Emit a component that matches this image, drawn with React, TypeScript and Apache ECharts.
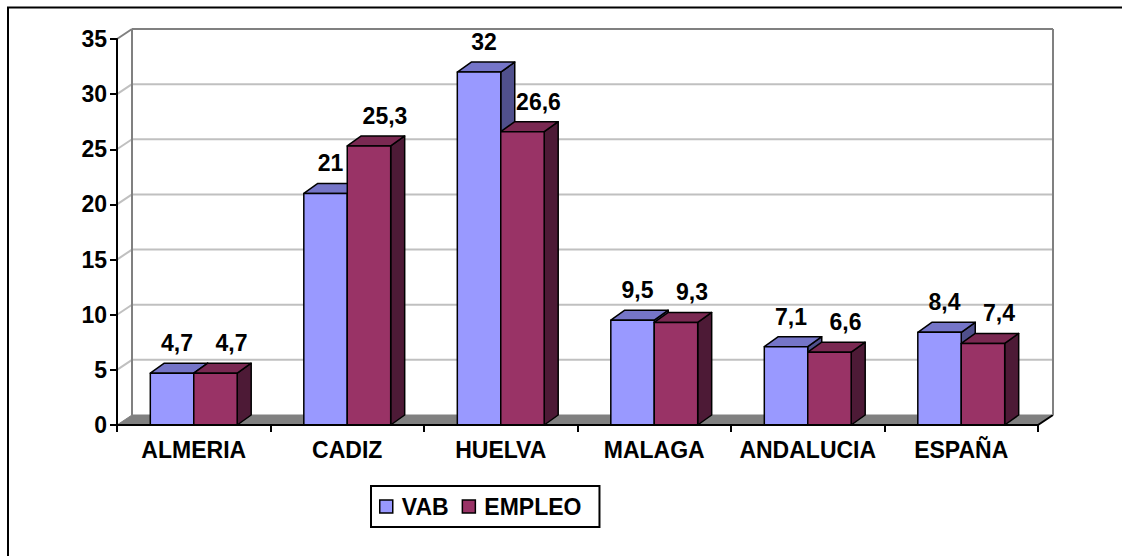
import React, { useEffect, useRef } from 'react';
import * as echarts from 'echarts';

const categories = ['ALMERIA', 'CADIZ', 'HUELVA', 'MALAGA', 'ANDALUCIA', 'ESPAÑA'];
const vab = [4.7, 21, 32, 9.5, 7.1, 8.4];
const empleo = [4.7, 25.3, 26.6, 9.3, 6.6, 7.4];
const yTicks = [0, 5, 10, 15, 20, 25, 30, 35];

const FONT = '"Liberation Sans", Arial, Helvetica, sans-serif';
const WDX = 15;
const WDY = 10;
const BDX = 14;
const BDY = 10;
const BAR_FRAC = 0.283;

const fmt = (v: number) => String(v).replace('.', ',');

type Faces = { front: string; top: string; side: string };

function barRenderer(pos: 'left' | 'right', c: Faces, labelDx: number) {
  return (params: any, api: any) => {
    const i = api.value(0);
    const v = api.value(1);
    const base = api.coord([i, 0]);
    const tp = api.coord([i, v]);
    const bw = api.size([1, 0])[0];
    const w = bw * BAR_FRAC;
    const x0 = pos === 'left' ? base[0] - w : base[0];
    const x1 = x0 + w;
    const yb = base[1];
    const yt = tp[1];
    const st = (fill: string) => ({ fill, stroke: '#000', lineWidth: 1.5, lineJoin: 'round' });
    return {
      type: 'group',
      children: [
        { type: 'polygon', shape: { points: [[x1, yb], [x1 + BDX, yb - BDY], [x1 + BDX, yt - BDY], [x1, yt]] }, style: st(c.side) },
        { type: 'polygon', shape: { points: [[x0, yt], [x0 + BDX, yt - BDY], [x1 + BDX, yt - BDY], [x1, yt]] }, style: st(c.top) },
        { type: 'rect', shape: { x: x0, y: yt, width: w, height: yb - yt }, style: st(c.front) },
        {
          type: 'text',
          x: (x0 + x1) / 2 + labelDx,
          y: yt - BDY - 20,
          style: {
            text: fmt(v),
            fill: '#000',
            fontSize: 23,
            fontWeight: 'bold',
            fontFamily: FONT,
            align: 'center',
            verticalAlign: 'middle',
          },
        },
      ],
    };
  };
}

const wallRender = (params: any, api: any) => {
  const v = api.value(1);
  const c = api.coord([0, v]);
  const y0 = api.coord([0, 0])[1];
  const bw = api.size([1, 0])[0];
  const left = c[0] - bw / 2;
  const right = left + bw * categories.length;
  const y = c[1];
  const yMax = yTicks[yTicks.length - 1];
  const children: any[] = [];
  if (v === 0) {
    children.push({
      type: 'polygon',
      shape: { points: [[left, y], [right, y], [right + WDX, y - WDY], [left + WDX, y - WDY]] },
      style: { fill: '#808080', stroke: '#808080', lineWidth: 1 },
    });
    children.push({
      type: 'line',
      shape: { x1: right, y1: y, x2: right + WDX, y2: y - WDY },
      style: { stroke: '#000', lineWidth: 2 },
    });
  } else {
    const color = v === yMax ? '#808080' : '#c0c0c0';
    children.push({
      type: 'line',
      shape: { x1: left, y1: y, x2: left + WDX, y2: y - WDY },
      style: { stroke: color, lineWidth: 2 },
    });
    children.push({
      type: 'line',
      shape: { x1: left + WDX, y1: y - WDY, x2: right + WDX, y2: y - WDY },
      style: { stroke: color, lineWidth: 2 },
    });
  }
  if (v === yMax) {
    children.push({
      type: 'line',
      shape: { x1: left + WDX, y1: y - WDY, x2: left + WDX, y2: y0 - WDY },
      style: { stroke: '#808080', lineWidth: 2 },
    });
    children.push({
      type: 'line',
      shape: { x1: right + WDX, y1: y - WDY, x2: right + WDX, y2: y0 - WDY },
      style: { stroke: '#808080', lineWidth: 2 },
    });
  }
  return { type: 'group', children };
};

export default function App() {
  const ref = useRef<HTMLDivElement>(null);
  useEffect(() => {
    if (!ref.current) return;
    const chart = echarts.init(ref.current, null, { renderer: 'svg' });
    const textBase = { fontSize: 23, fontWeight: 'bold' as const, fontFamily: FONT, color: '#000' };
    chart.setOption({
      animation: false,
      backgroundColor: '#fff',
      grid: { left: 117, right: 84, top: 39, bottom: 131, containLabel: false },
      xAxis: {
        type: 'category',
        data: categories,
        z: 5,
        axisLine: { show: true, lineStyle: { color: '#000', width: 2 } },
        axisTick: { show: true, length: 7, lineStyle: { color: '#000', width: 2 } },
        axisLabel: { ...textBase, margin: 13, interval: 0 },
        splitLine: { show: false },
      },
      yAxis: {
        type: 'value',
        min: 0,
        max: 35,
        interval: 5,
        z: 5,
        axisLine: { show: true, lineStyle: { color: '#000', width: 2 } },
        axisTick: { show: true, length: 7, lineStyle: { color: '#000', width: 2 } },
        axisLabel: { ...textBase, margin: 10 },
        splitLine: { show: false },
      },
      legend: {
        left: 371,
        top: 486,
        orient: 'horizontal',
        padding: [9, 18, 9, 8],
        borderColor: '#000',
        borderWidth: 2,
        itemGap: 13,
        itemWidth: 13,
        itemHeight: 13,
        icon: 'rect',
        textStyle: { ...textBase, padding: [0, 0, 0, 4] },
        data: [
          { name: 'VAB', itemStyle: { color: '#9999FF', borderColor: '#000', borderWidth: 1.5 } },
          { name: 'EMPLEO', itemStyle: { color: '#993366', borderColor: '#000', borderWidth: 1.5 } },
        ],
      },
      graphic: [
        {
          type: 'rect',
          shape: { x: 8, y: 7.5, width: 1300, height: 700 },
          style: { fill: 'none', stroke: '#000', lineWidth: 2 },
          silent: true,
        },
      ],
      series: [
        {
          type: 'custom',
          name: 'walls',
          z: 1,
          silent: true,
          renderItem: wallRender,
          data: yTicks.map((t) => [0, t]),
          encode: { x: 0, y: 1 },
        },
        {
          type: 'custom',
          name: 'VAB',
          z: 2,
          itemStyle: { color: '#9999FF' },
          renderItem: barRenderer('left', { front: '#9999FF', top: '#7575C8', side: '#50508C' }, 5),
          data: vab.map((v, i) => [i, v]),
          encode: { x: 0, y: 1 },
        },
        {
          type: 'custom',
          name: 'EMPLEO',
          z: 3,
          itemStyle: { color: '#993366' },
          renderItem: barRenderer('right', { front: '#993366', top: '#7A2952', side: '#4D1A36' }, 16),
          data: empleo.map((v, i) => [i, v]),
          encode: { x: 0, y: 1 },
        },
      ],
    });
    return () => chart.dispose();
  }, []);
  return (
    <div
      ref={ref}
      style={{ position: 'fixed', left: 0, top: 0, width: 1122, height: 556, background: '#fff' }}
    />
  );
}
